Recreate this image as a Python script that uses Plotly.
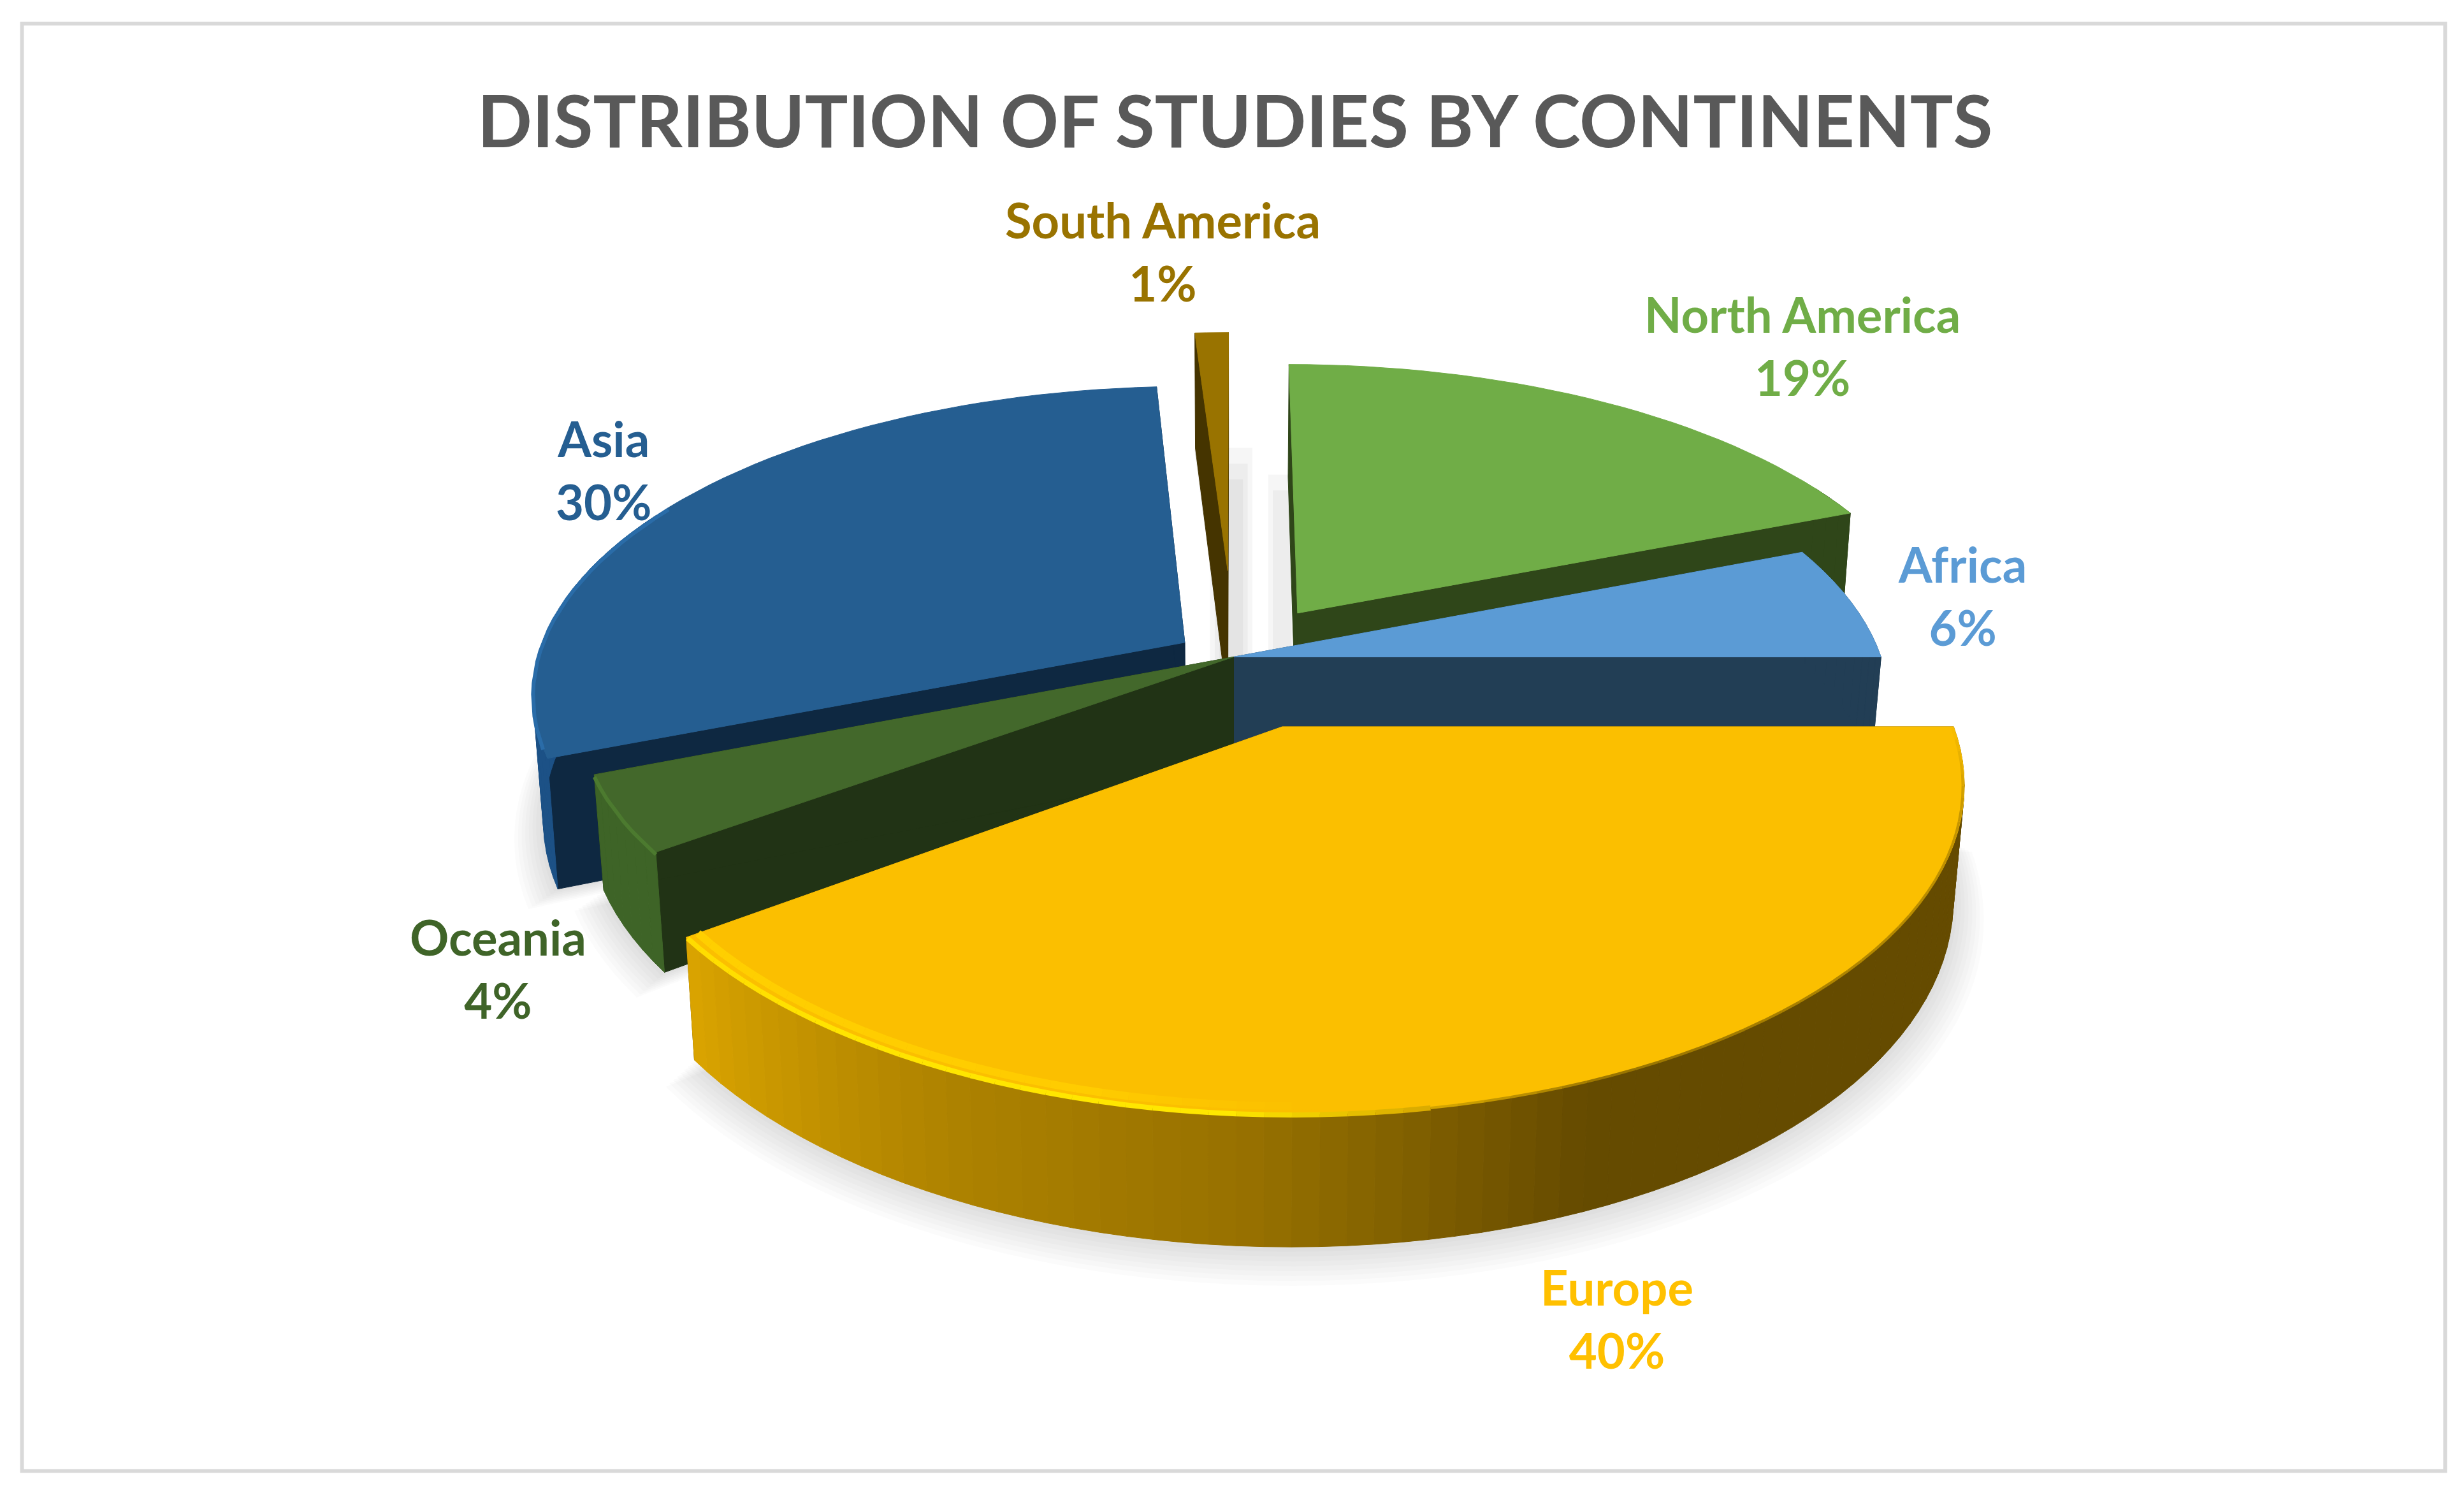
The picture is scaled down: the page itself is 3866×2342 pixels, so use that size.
import numpy as np
import plotly.graph_objects as go

# ---- data ----
categories = ["North America", "Africa", "Europe", "Oceania", "Asia", "South America"]
values = [19, 6, 40, 4, 30, 1]
title_text = "DISTRIBUTION OF STUDIES BY CONTINENTS"

# ---- styles ----
top_color = {"North America": "#70AD47", "Africa": "#5B9BD5", "Europe": "#FBBF00",
             "Oceania": "#43682B", "Asia": "#255E91", "South America": "#997300"}
text_color = {"North America": "#70AD47", "Africa": "#5B9BD5", "Europe": "#FFC000",
              "Oceania": "#3F6428", "Asia": "#255E91", "South America": "#997300"}
cut_color = {"North America": "#2F4619", "Africa": "#223E55", "Europe": "#654B00",
             "Oceania": "#213315", "Asia": "#0E2841", "South America": "#453400"}
wall_color = {"North America": "#2F4619", "Africa": "#223E55",
              "Oceania": "#3E6427", "Asia": "#1C5186", "South America": "#453400"}
explode = {"North America": 0.18, "Africa": 0.0, "Europe": 0.235,
           "Oceania": 0.0, "Asia": 0.09, "South America": 0.30}
depth = {"North America": 1.25, "Africa": 1.0, "Europe": 1.0,
         "Oceania": 1.02, "Asia": 1.16, "South America": 1.3}
draw_order = ["South America", "North America", "Asia", "Africa", "Oceania", "Europe"]
label_pos = {"South America": (740, 160), "North America": (1147, 220), "Africa": (1249, 379),
             "Asia": (384, 299), "Oceania": (317, 616), "Europe": (1029, 839)}

# projection of the tilted disc onto the canvas (canvas units: 1568 x 950)
CX, CY, R, S, K, H, TAPER = 785, 418, 412, 191.6, 0.159, 68, 0.015


def proj(X, Y, z=0.0):
    w = 1 + K * Y
    return CX + (R * X / w) * (1 - TAPER * min(z, 1.0)), CY - S * Y / w + z * H / w


def hexrgb(c):
    return np.array([int(c[i:i + 2], 16) for i in (1, 3, 5)], float)


def ramp(t, stops):
    ts = [s[0] for s in stops]
    cs = np.array([hexrgb(s[1]) for s in stops])
    vals = [np.interp(t, ts, cs[:, i]) for i in range(3)]
    return "rgb(%d,%d,%d)" % tuple(vals)


europe_wall = [(90, "#6B4F00"), (100, "#654B00"), (158, "#654B00"), (182, "#967000"),
               (207, "#B08400"), (234, "#DBA500")]

fig = go.Figure()


def poly(pts, color, lw=1.0):
    xs = [p[0] for p in pts] + [pts[0][0]]
    ys = [p[1] for p in pts] + [pts[0][1]]
    fig.add_trace(go.Scatter(x=xs, y=ys, mode="lines", fill="toself", fillcolor=color,
                             line=dict(color=color, width=lw), hoverinfo="skip", showlegend=False))


def rim(pts, color, lw):
    fig.add_trace(go.Scatter(x=[p[0] for p in pts], y=[p[1] for p in pts], mode="lines",
                             line=dict(color=color, width=lw), hoverinfo="skip", showlegend=False))


# slice angles follow from the values, clockwise from north
total = sum(values)
start = {}
acc = 0.0
for c, v in zip(categories, values):
    start[c] = (acc, acc + 360.0 * v / total)
    acc += 360.0 * v / total

for name in draw_order:
    a0, a1 = start[name]
    mid = np.radians((a0 + a1) / 2)
    p = explode[name]
    ox, oy = p * np.sin(mid), p * np.cos(mid)
    n = max(3, int((a1 - a0) / 2))
    th = np.linspace(a0, a1, n + 1)
    d = depth[name]

    def edge(t, z=0.0, r=1.0):
        a = np.radians(t)
        return proj(ox + r * np.sin(a), oy + r * np.cos(a), z)

    apex_t, apex_b = proj(ox, oy, 0), proj(ox, oy, d)

    # soft ground shadow
    for i in range(8, 0, -1):
        pts = [apex_b] + [edge(t, d + 0.016 * i, 1 + 0.0055 * i) for t in th]
        poly(pts, "rgba(0,0,0,0.014)", 0)

    # cut faces
    for t in (a0, a1):
        poly([apex_t, edge(t, 0), edge(t, d), apex_b], cut_color[name])

    # outer wall
    for t0, t1 in zip(th[:-1], th[1:]):
        col = ramp((t0 + t1) / 2, europe_wall) if name == "Europe" else wall_color[name]
        if np.cos(np.radians((t0 + t1) / 2)) < 0.45:
            poly([edge(t0, 0), edge(t1, 0), edge(t1, d), edge(t0, d)], col)

    # top face
    poly([apex_t] + [edge(t) for t in th], top_color[name])

    # bevel on the rim
    if name == "Europe":
        for t0, t1 in zip(th[:-1], th[1:]):
            tm = (t0 + t1) / 2
            if tm > 178:
                rim([edge(t0, 0, 0.982), edge(t1, 0, 0.982)],
                    ramp(tm, [(178, "#FBBF00"), (195, "#FFCC00"), (234, "#FFD000")]), 12)
        for t0, t1 in zip(th[:-1], th[1:]):
            tm = (t0 + t1) / 2
            rim([edge(t0, 0.012, 0.998), edge(t1, 0.012, 0.998)],
                ramp(tm, [(90, "#FBBF00"), (104, "#C89800"), (156, "#9A7500"), (170, "#D8A800"),
                          (185, "#FFE800"), (215, "#FFE400"), (234, "#FFDC00")]),
                4 if tm < 170 else 8)
    if name == "Asia":
        left = [t for t in th if 250 <= t <= 300]
        rim([edge(t, 0.02, 1.0) for t in left], "#2A6CA8", 6)
    if name == "Oceania":
        rim([edge(t, 0.02, 1.0) for t in th], "#4C7A2F", 6)

# labels
for c, v in zip(categories, values):
    x, y = label_pos[c]
    fig.add_annotation(x=x, y=y, text=f"<b>{c}<br>{v}%</b>", showarrow=False,
                       font=dict(family="Lato", size=76, color=text_color[c]),
                       xanchor="center", yanchor="middle", align="center")

fig.add_annotation(x=786, y=76, text=f"<b>{title_text}</b>", showarrow=False,
                   font=dict(family="Lato", size=113, color="#595959"),
                   xanchor="center", yanchor="middle")

fig.add_shape(type="rect", x0=14, y0=15, x1=1556, y1=936, line=dict(color="#D9D9D9", width=6),
              fillcolor="rgba(0,0,0,0)", layer="below")

# soft shadows seen through the gaps around the small exploded slice
for x0, x1, y0 in [(770, 797, 285), (773, 794, 295), (776, 791, 305), (807, 822, 302), (810, 822, 312)]:
    fig.add_shape(type="rect", x0=x0, x1=x1, y0=y0, y1=422, line=dict(width=0),
                  fillcolor="rgba(0,0,0,0.035)", layer="below")

# the page adds an 8 px body margin: keep canvas units aligned with the window
MX = 8 * 1568 / 3866
MY = 8 * 950 / 2342
fig.update_layout(
    width=3866 - 16, height=2342 - 16, margin=dict(l=0, r=0, t=0, b=0),
    paper_bgcolor="white", plot_bgcolor="white", showlegend=False,
    xaxis=dict(range=[MX, 1568 - MX], visible=False, fixedrange=True),
    yaxis=dict(range=[950 - MY, MY], visible=False, fixedrange=True),
)
fig.write_html("out.html")
